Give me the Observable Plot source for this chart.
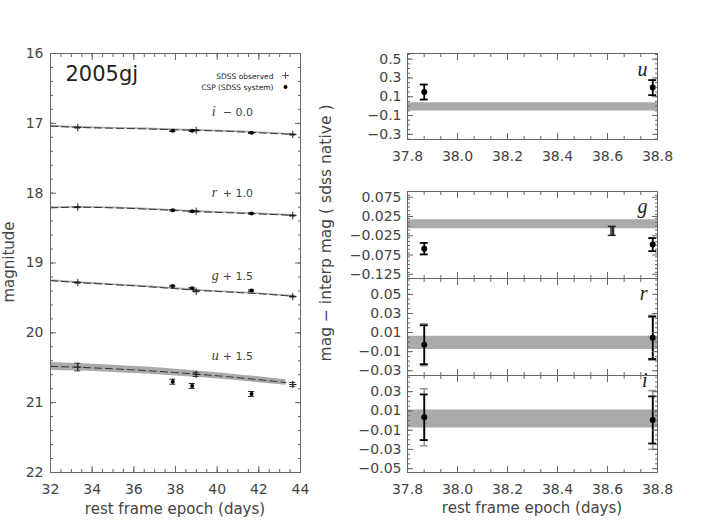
<!DOCTYPE html>
<html><head><meta charset="utf-8">
<script src="https://cdn.jsdelivr.net/npm/d3@7"></script>
<script src="https://cdn.jsdelivr.net/npm/@observablehq/plot@0.6"></script>
<style>
body{margin:0;background:#fff;}
#chart{position:relative;width:713px;height:525px;overflow:hidden;font-family:"DejaVu Sans",sans-serif;color:#444;background:#fff}
.lab{position:absolute;white-space:nowrap;font-size:15px;color:#444;font-family:"DejaVu Sans",sans-serif}
</style></head><body><div id="chart"></div>
<script>
// ---------------- data ----------------
// Left panel: light curves (plotted magnitudes, offsets already applied)
const bandNames = ["i", "r", "g", "u"];
const bandOffsetText = ["− 0.0", "+ 1.0", "+ 1.5", "+ 1.5"];
const labelEpoch = 39.74;
const labelMag = [16.90, 18.06, 19.24, 20.39];

const sdssEpoch = [33.31, 38.99, 43.63];
const sdssI = [17.06, 17.10, 17.16];
const sdssR = [18.20, 18.26, 18.32];
const sdssG = [19.28, 19.405, 19.48];
const sdssU = [20.49, 20.595, 20.74];
const sdssErrSmall = [0.008, 0.008, 0.008];
const sdssErrU = [0.055, 0.03, 0.03];

const cspEpoch = [37.87, 38.80, 41.65];
const cspI = [17.107, 17.107, 17.136];
const cspR = [18.245, 18.26, 18.29];
const cspG = [19.33, 19.36, 19.395];
const cspU = [20.70, 20.76, 20.875];
const cspErrSmall = [0.01, 0.01, 0.01];
const cspErrU = [0.036, 0.035, 0.035];

const curveEpoch = [32, 33.3, 35, 36.6, 38, 39, 40.5, 42, 43.6];
const curveI = [17.04, 17.058, 17.07, 17.08, 17.093, 17.10, 17.115, 17.135, 17.158];
const curveR = [18.21, 18.202, 18.21, 18.228, 18.248, 18.264, 18.28, 18.297, 18.318];
const curveG = [19.252, 19.28, 19.31, 19.338, 19.368, 19.39, 19.415, 19.44, 19.475];
const curveHalfSmall = [0.012, 0.012, 0.012, 0.012, 0.012, 0.012, 0.012, 0.012, 0.012];
const curveEpochU = [32, 33.3, 35, 36.6, 38, 39, 40.5, 42, 43.3];
const curveU = [20.48, 20.493, 20.515, 20.541, 20.569, 20.591, 20.628, 20.671, 20.711];
const curveHalfU = [0.055, 0.055, 0.052, 0.05, 0.048, 0.045, 0.043, 0.042, 0.04];

// Right panels: residuals (mag - interp mag)
const resEpoch = [37.867, 38.781];
const resU = [0.15, 0.197];
const resErrU = [0.08, 0.08];
const bandU = [-0.053, 0.037];
const resG = [-0.0585, -0.048];
const resErrG = [0.015, 0.017];
const bandG = [-0.0066, 0.0168];
const extraEpochG = [38.619];
const extraG = [-0.0123];
const extraErrG = [0.0117];
const resR = [-0.0028, 0.0045];
const resErrR = [0.0204, 0.0222];
const resErrR2 = [0.022, 0.0235];
const bandR = [-0.0077, 0.0062];
const resI = [0.0034, 0.0006];
const resErrI = [0.0237, 0.0245];
const resErrI2 = [0.0296, 0.0305];
const bandI = [-0.0077, 0.011];

// axis tick values
const leftXMajor = [32, 34, 36, 38, 40, 42, 44];
const leftYMajor = [16, 17, 18, 19, 20, 21, 22];
const rightXMajor = [37.8, 38.0, 38.2, 38.4, 38.6, 38.8];
const uTicks = [0.5, 0.3, 0.1, -0.1, -0.3];
const gTicks = [0.075, 0.025, -0.025, -0.075, -0.125];
const rTicks = [0.05, 0.03, 0.01, -0.01, -0.03];
const iTicks = [0.03, 0.01, -0.01, -0.03, -0.05];

// ---------------- drawing ----------------
const chart = document.getElementById("chart");
const TXT = "#444", AX = "#666", BAND = "#aaaaaa";
const baseStyle = {background: "transparent", fontFamily: "DejaVu Sans, sans-serif", fontSize: "14px", color: TXT, overflow: "visible"};

function place(svg, left, top) {
  svg.style.position = "absolute";
  svg.style.left = left + "px";
  svg.style.top = top + "px";
  chart.appendChild(svg);
}
function minorTicks(domain, step) {
  const [a, b] = d3.extent(domain);
  const k0 = Math.ceil(a / step - 1e-6), k1 = Math.floor(b / step + 1e-6);
  return d3.range(k0, k1 + 1).map(k => +(k * step).toFixed(6));
}
function box({xDomain, yDomain, xMajor, xStep, yMajor, yStep, xFmt, yFmt, showX, xPad = 12, yPad = 7}) {
  const t = {stroke: AX, fill: "none", label: null, strokeWidth: 1};
  const xMinor = minorTicks(xDomain, xStep), yMinor = minorTicks(yDomain, yStep);
  const m = [
    Plot.axisX(xMajor, {...t, anchor: "bottom", tickSize: -6}),
    Plot.axisX(xMinor, {...t, anchor: "bottom", tickSize: -3}),
    Plot.axisX(xMajor, {...t, anchor: "top", tickSize: -6}),
    Plot.axisX(xMinor, {...t, anchor: "top", tickSize: -3}),
    Plot.axisY(yMajor, {...t, anchor: "left", tickSize: -6}),
    Plot.axisY(yMinor, {...t, anchor: "left", tickSize: -3}),
    Plot.axisY(yMajor, {...t, anchor: "right", tickSize: -6}),
    Plot.axisY(yMinor, {...t, anchor: "right", tickSize: -3}),
    Plot.axisY(yMajor, {anchor: "left", tickSize: 0, tickPadding: yPad, tickFormat: yFmt, stroke: "none", fill: TXT, label: null, fontSize: 14})
  ];
  if (showX) m.push(Plot.axisX(xMajor, {anchor: "bottom", tickSize: 0, tickPadding: xPad, tickFormat: xFmt, stroke: "none", fill: TXT, label: null, fontSize: 14}));
  m.push(Plot.frame({stroke: AX}));
  return m;
}
function errMarks(pts, {stroke = "#111", width = 1.2, cap = 3, key = "e"} = {}) {
  return [
    Plot.ruleX(pts, {x: "x", y1: d => d.y - d[key], y2: d => d.y + d[key], stroke, strokeWidth: width}),
    Plot.ruleY(pts, {y: d => d.y - d[key], x1: "x", x2: "x", insetLeft: -cap, insetRight: -cap, stroke, strokeWidth: width}),
    Plot.ruleY(pts, {y: d => d.y + d[key], x1: "x", x2: "x", insetLeft: -cap, insetRight: -cap, stroke, strokeWidth: width})
  ];
}
const zipPts = (xs, ys, es, es2) => xs.map((x, k) => ({x, y: ys[k], e: es[k], e2: es2 ? es2[k] : 0}));

// ---- left panel ----
const curveEpochs = [curveEpoch, curveEpoch, curveEpoch, curveEpochU];
const curves = [curveI, curveR, curveG, curveU];
const halves = [curveHalfSmall, curveHalfSmall, curveHalfSmall, curveHalfU];
const sdssMags = [sdssI, sdssR, sdssG, sdssU];
const sdssErrs = [sdssErrSmall, sdssErrSmall, sdssErrSmall, sdssErrU];
const cspMags = [cspI, cspR, cspG, cspU];
const cspErrs = [cspErrSmall, cspErrSmall, cspErrSmall, cspErrU];

const leftMarks = [];
bandNames.forEach((b, k) => {
  const cv = curveEpochs[k].map((t, j) => ({t, m: curves[k][j], h: halves[k][j]}));
  leftMarks.push(
    Plot.areaY(cv, {x: "t", y1: d => d.m - d.h, y2: d => d.m + d.h, fill: BAND, curve: "monotone-x", clip: true}),
    Plot.line(cv, {x: "t", y: "m", stroke: "#333", strokeWidth: 1, strokeDasharray: "7,4", curve: "monotone-x", clip: true})
  );
});
bandNames.forEach((b, k) => {
  const sd = zipPts(sdssEpoch, sdssMags[k], sdssErrs[k]);
  const cs = zipPts(cspEpoch, cspMags[k], cspErrs[k]);
  leftMarks.push(
    ...errMarks(sd, {stroke: "#333", width: 1, cap: 3}),
    Plot.dot(sd, {x: "x", y: "y", symbol: "plus", r: 2.5, stroke: "#222", strokeWidth: 1}),
    ...errMarks(cs, {stroke: "#222", width: 1, cap: 3}),
    Plot.dot(cs, {x: "x", y: "y", r: 2, fill: "#000", stroke: "none"}),
    Plot.text([b], {x: () => labelEpoch, y: () => labelMag[k], textAnchor: "start", lineAnchor: "bottom", fontFamily: "Liberation Serif, serif", fontStyle: "italic", fontSize: 14, fill: TXT}),
    Plot.text([bandOffsetText[k]], {x: () => labelEpoch, y: () => labelMag[k], dx: 11, textAnchor: "start", lineAnchor: "bottom", fontSize: 11, fill: TXT})
  );
});
leftMarks.push(
  Plot.text(["2005gj"], {frameAnchor: "top-left", dx: 15, dy: 27, textAnchor: "start", lineAnchor: "bottom", fontSize: 21, fill: "#222"}),
  Plot.text(["SDSS observed"], {frameAnchor: "top-right", dx: -27, dy: 25, textAnchor: "end", lineAnchor: "bottom", fontSize: 7.5, fill: "#222"}),
  Plot.text(["CSP (SDSS system)"], {frameAnchor: "top-right", dx: -27, dy: 36.5, textAnchor: "end", lineAnchor: "bottom", fontSize: 7.5, fill: "#222"}),
  Plot.dot([0], {frameAnchor: "top-right", dx: -15, dy: 22, symbol: "plus", r: 2.3, stroke: "#444", strokeWidth: 0.9}),
  Plot.dot([0], {frameAnchor: "top-right", dx: -15, dy: 33.5, r: 2, fill: "#000", stroke: "none"})
);
leftMarks.push(...box({xDomain: [32, 44], yDomain: [16, 22], xMajor: leftXMajor, xStep: 0.5, yMajor: leftYMajor, yStep: 0.2, xFmt: d3.format("d"), yFmt: d3.format("d"), showX: true, yPad: 7}));

place(Plot.plot({
  width: 310, height: 525, marginLeft: 50, marginRight: 10, marginTop: 53, marginBottom: 53,
  x: {domain: [32, 44]}, y: {domain: [16, 22], reverse: true},
  style: baseStyle, marks: leftMarks
}), 0, 0);

// ---- right panels ----
const rightDomain = [37.8, 38.8];
function resPanel({top, height, mTop, mBottom, yDomain, band, vals, errs, grayErrs, yMajor, yStep, yFmt, name, nameDy, showX, extra}) {
  const pts = zipPts(resEpoch, vals, errs, grayErrs);
  const marks = [
    Plot.areaY(rightDomain, {x: d => d, y1: band[0], y2: band[1], fill: BAND})
  ];
  if (grayErrs) marks.push(...errMarks(pts, {stroke: "#999", width: 1.6, cap: 4, key: "e2"}));
  if (extra) {
    marks.push(
      Plot.ruleX(extra, {x: "x", y1: d => d.y - d.e, y2: d => d.y + d.e, stroke: "#222", strokeWidth: 4}),
      Plot.ruleX(extra, {x: "x", y1: d => d.y - d.e, y2: d => d.y + d.e, stroke: "#bbb", strokeWidth: 1.8}),
      ...errMarks(extra, {stroke: "#222", width: 1.4, cap: 4})
    );
  }
  marks.push(
    ...errMarks(pts, {stroke: "#000", width: 1.8, cap: 4}),
    Plot.dot(pts, {x: "x", y: "y", r: 3, fill: "#000", stroke: "none"}),
    Plot.text([name], {frameAnchor: "top-right", dx: -10, dy: nameDy, textAnchor: "end", lineAnchor: "bottom", fontFamily: "Liberation Serif, serif", fontStyle: "italic", fontSize: 20, fill: "#222"}),
    ...box({xDomain: rightDomain, yDomain, xMajor: rightXMajor, xStep: 0.2 / 3, yMajor, yStep, xFmt: d3.format(".1f"), yFmt, showX, yPad: 6, xPad: 12})
  );
  place(Plot.plot({
    width: 403, height, marginLeft: 97, marginRight: 56, marginTop: mTop, marginBottom: mBottom,
    x: {domain: rightDomain}, y: {domain: yDomain},
    style: baseStyle, marks
  }), 310, top);
}

resPanel({top: 0, height: 175, mTop: 53, mBottom: 36, yDomain: [-0.355, 0.56], band: bandU, vals: resU, errs: resErrU,
  yMajor: uTicks, yStep: 0.05, yFmt: d3.format(".1f"), name: "u", nameDy: 22, showX: true});
resPanel({top: 175, height: 120, mTop: 16, mBottom: 17, yDomain: [-0.136, 0.09], band: bandG, vals: resG, errs: resErrG,
  yMajor: gTicks, yStep: 0.01, yFmt: d3.format(".3f"), name: "g", nameDy: 21, showX: false,
  extra: zipPts(extraEpochG, extraG, extraErrG)});
resPanel({top: 262, height: 120, mTop: 16, mBottom: 7, yDomain: [-0.035, 0.0666], band: bandR, vals: resR, errs: resErrR, grayErrs: resErrR2,
  yMajor: rTicks, yStep: 0.005, yFmt: d3.format(".2f"), name: "r", nameDy: 21, showX: false});
resPanel({top: 359, height: 166, mTop: 16, mBottom: 53, yDomain: [-0.054, 0.0468], band: bandI, vals: resI, errs: resErrI, grayErrs: resErrI2,
  yMajor: iTicks, yStep: 0.005, yFmt: d3.format(".2f"), name: "i", nameDy: 11, showX: true});

// ---- axis titles ----
function label(text, x, y, rot, size) {
  const d = document.createElement("div");
  d.className = "lab";
  d.textContent = text;
  d.style.left = x + "px";
  d.style.top = y + "px";
  if (size) d.style.fontSize = size + "px";
  d.style.transform = "translate(-50%,-50%)" + (rot ? " rotate(-90deg)" : "");
  chart.appendChild(d);
}
label("magnitude", 9, 262, true);
label("mag − interp mag ( sdss native )", 326, 233, true, 15.5);
label("rest frame epoch (days)", 175, 509, false);
label("rest frame epoch (days)", 532, 508, false);
</script></body></html>
